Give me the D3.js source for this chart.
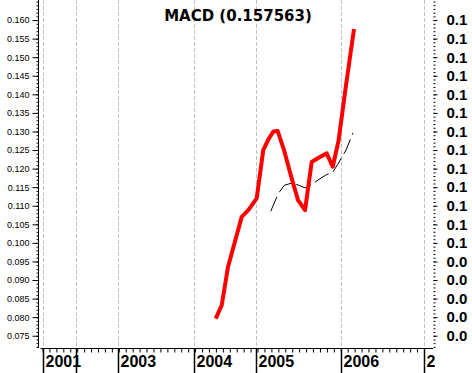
<!DOCTYPE html>
<html>
<head>
<meta charset="utf-8">
<script src="https://cdn.jsdelivr.net/npm/d3@7"></script>
<style>
	body { margin: 0; background: #fff; }
	svg { display: block; }
</style>
</head>
<body>
<div id="macd_chart"></div>
<script>
// MACD panel data - x is a bar index along the (uneven) time axis
var title = "MACD (0.157563)";

var macdT = [24.97, 25.84, 26.74, 28.72, 29.67, 30.88, 31.83, 32.55, 33.28, 33.91, 34.82,
			35.83, 36.84, 37.85, 38.81, 39.86, 40.97, 41.84, 42.68, 43.76, 44.91];
var macdV = [0.0796, 0.0832, 0.0935, 0.1070, 0.1088, 0.1120, 0.1250, 0.1278, 0.1300, 0.1301, 0.1250,
			0.1180, 0.1115, 0.1088, 0.1218, 0.1230, 0.1241, 0.1205, 0.1275, 0.1425, 0.1576];

var signalT = [32.9, 34.0, 34.86, 35.93, 36.84, 37.85, 38.81, 39.86, 40.97, 41.84, 42.68, 43.76, 44.75];
var signalV = [0.1085, 0.1133, 0.1155, 0.1161, 0.1156, 0.1148, 0.1157, 0.1171, 0.1184, 0.1190, 0.1215, 0.1250, 0.1296];

var yearLabels = ["2001", "2002", "2003", "2004", "2005", "2006", "2007"];
var yearT = [0, 4.9, 10.9, 21.9, 30.8, 43, 55];

var w = 472, h = 373;
var plotBottom = 348;

var svg = d3.select("#macd_chart")
	.append("svg")
	.attr("width", w)
	.attr("height", h);

var x = d3.scaleLinear().domain([0, 55]).range([42.5, 424]);
var y = d3.scaleLinear().domain([0.0717, 0.1654]).range([plotBottom, 0]);

// year grid lines (dashed grey)
svg.append("g")
	.selectAll("line")
	.data(yearT)
	.enter().append("line")
	.attr("x1", function(d) { return Math.round(x(d)) + 0.5; })
	.attr("x2", function(d) { return Math.round(x(d)) + 0.5; })
	.attr("y1", 0)
	.attr("y2", plotBottom)
	.style("stroke", "#c0c0c0")
	.style("stroke-dasharray", "4,2");

// value ticks
var minorTicks = d3.range(72, 166).map(function(d) { return d / 1000; });
var majorTicks = d3.range(75, 161, 5).map(function(d) { return d / 1000; });

// left axis
var left = svg.append("g").attr("transform", "translate(38.5,0)");
left.call(d3.axisLeft(y).tickValues(minorTicks).tickSize(2).tickFormat(""));
left.append("g").call(d3.axisLeft(y).tickValues(majorTicks).tickSize(6).tickPadding(3).tickFormat(d3.format(".3f")));
left.selectAll(".domain").remove();
left.append("line")
	.attr("x1", 0).attr("x2", 0)
	.attr("y1", 0).attr("y2", plotBottom)
	.style("stroke", "#000");
left.selectAll("text")
	.style("font-family", "'Liberation Sans', Arial, sans-serif")
	.style("font-size", "9px")
	.style("fill", "#000");

// right axis - labels truncated to one decimal like the original
var truncFmt = function(v) { return (Math.floor(v * 10 + 1e-9) / 10).toFixed(1); };
var right = svg.append("g").attr("transform", "translate(433.5,0)");
right.call(d3.axisRight(y).tickValues(minorTicks).tickSize(2).tickFormat(""));
right.append("g").call(d3.axisRight(y).tickValues(majorTicks).tickSize(4).tickPadding(9).tickFormat(truncFmt));
right.selectAll(".domain").remove();
right.selectAll("text")
	.style("font-family", "'Liberation Sans', Arial, sans-serif")
	.style("font-size", "15px")
	.style("font-weight", "bold")
	.style("fill", "#000");

// bottom axis
var bottom = svg.append("g").attr("transform", "translate(0," + (plotBottom + 0.5) + ")");
bottom.call(d3.axisBottom(x).tickValues(d3.range(0, 56)).tickSize(4).tickFormat(""));
bottom.selectAll(".domain").remove();
bottom.append("line")
	.attr("x1", 40.5).attr("x2", 433)
	.attr("y1", 0).attr("y2", 0)
	.style("stroke", "#000");

// year labels, skip a label that would run into the previous one
svg.append("clipPath").attr("id", "year_clip")
	.append("rect").attr("x", 0).attr("y", plotBottom).attr("width", 435).attr("height", h - plotBottom);

var years = svg.append("g").attr("clip-path", "url(#year_clip)");
var lastEnd = -100;
yearT.forEach(function(t, i) {
	var px = Math.round(x(t)) + 0.5;
	if (px > lastEnd) {
		var txt = years.append("text")
			.attr("x", px + 2)
			.attr("y", 367)
			.style("font-family", "'Liberation Sans', Arial, sans-serif")
			.style("font-size", "16px")
			.style("font-weight", "bold")
			.text(yearLabels[i]);
		lastEnd = px + 2 + txt.node().getComputedTextLength();
	}
	years.append("line")
		.attr("x1", px).attr("x2", px)
		.attr("y1", plotBottom).attr("y2", h)
		.style("stroke", "#000")
		.style("stroke-width", 1.5);
});

// signal line (black dashed)
var sigLine = d3.line()
	.x(function(d, i) { return x(signalT[i]); })
	.y(function(d) { return y(d); });
svg.append("path")
	.attr("d", sigLine(signalV))
	.style("fill", "none")
	.style("stroke", "#000")
	.style("stroke-width", 1)
	.style("stroke-dasharray", "16,5");

// MACD line (thick red)
var macdLine = d3.line()
	.x(function(d, i) { return x(macdT[i]); })
	.y(function(d) { return y(d); });
svg.append("path")
	.attr("d", macdLine(macdV))
	.style("fill", "none")
	.style("stroke", "#ff0000")
	.style("stroke-width", 4)
	.style("stroke-linejoin", "round");

// title
svg.append("text")
	.attr("x", 238)
	.attr("y", 21)
	.attr("text-anchor", "middle")
	.style("font-family", "'DejaVu Sans', sans-serif")
	.style("font-size", "15px")
	.style("font-weight", "bold")
	.text(title);
</script>
</body>
</html>
